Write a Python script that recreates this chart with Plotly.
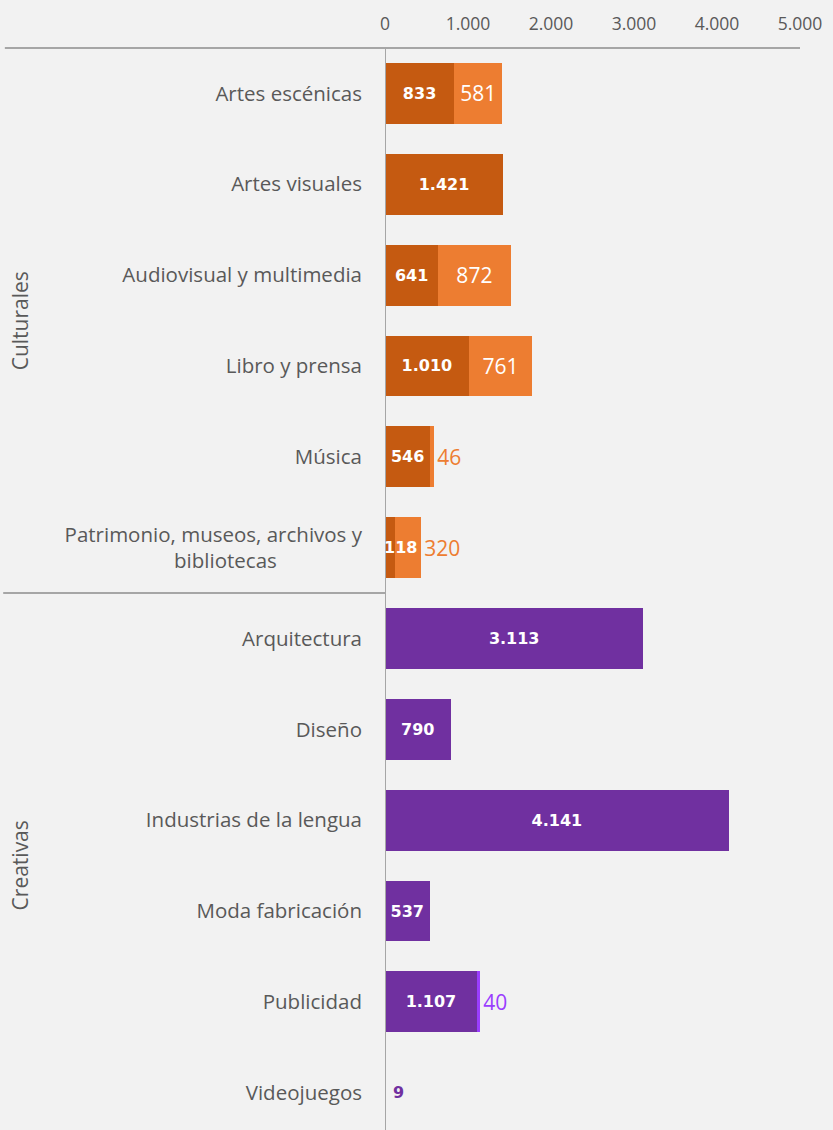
import plotly.graph_objects as go

categories = ["Artes escénicas", "Artes visuales", "Audiovisual y multimedia",
              "Libro y prensa", "Música",
              "Patrimonio, museos, archivos y<br>bibliotecas" + "\u00a0" * 16,
              "Arquitectura", "Diseño", "Industrias de la lengua", "Moda fabricación",
              "Publicidad", "Videojuegos"]
groups = ["Culturales"] * 6 + ["Creativas"] * 6
serie_a = [833, 1421, 641, 1010, 546, 118, 3113, 790, 4141, 537, 1107, 9]
serie_b = [581, None, 872, 761, 46, 320, None, None, None, None, 40, None]
x_ticks = [0, 1000, 2000, 3000, 4000, 5000]

def fmt(v):
    return "" if v is None else f"{v:,}".replace(",", ".")

GRAY = "#595959"
LINE = "#a6a6a6"
dark = ["#C55A11" if g == "Culturales" else "#7030A0" for g in groups]
light = ["#ED7D31" if g == "Culturales" else "#9A3DFF" for g in groups]

# etiquetas que no caben dentro se ponen a mano
small_a = {5, 11}
pos_a = ["none" if i in small_a else "inside" for i in range(len(categories))]
pos_b = []
col_b = []
for i, v in enumerate(serie_b):
    if v is not None and v >= 300 and i != 5:
        pos_b.append("inside")
        col_b.append("white")
    else:
        pos_b.append("outside")
        col_b.append(light[i])

fig = go.Figure()
fig.add_trace(go.Bar(
    y=categories, x=serie_a, orientation="h", width=0.67,
    marker=dict(color=dark, line=dict(width=0)),
    text=[fmt(v) for v in serie_a], textposition=pos_a,
    insidetextanchor="middle", constraintext="none", textangle=0,
    textfont=dict(family="DejaVu Sans", size=16, color="white", weight="bold"),
    cliponaxis=False, hoverinfo="skip",
))
fig.add_trace(go.Bar(
    y=categories, x=serie_b, orientation="h", width=0.67,
    marker=dict(color=light, line=dict(width=0)),
    text=[fmt(v) for v in serie_b], textposition=pos_b,
    insidetextanchor="middle", constraintext="none", textangle=0,
    textfont=dict(family="Open Sans", size=21, color=col_b),
    cliponaxis=False, hoverinfo="skip",
))

for i in small_a:
    fig.add_annotation(
        x=serie_a[i] if i == 11 else 0, y=categories[i], xref="x", yref="y",
        text=f"<b>{fmt(serie_a[i])}</b>", showarrow=False,
        xanchor="left", xshift=5 if i == 11 else -3,
        font=dict(family="DejaVu Sans", size=16,
                  color="#7030A0" if i == 11 else "white"),
    )

for name, yc in [("Culturales", 2.5), ("Creativas", 8.5)]:
    fig.add_annotation(x=-0.88, y=yc, xref="paper", yref="y", text=name,
                       textangle=-90, showarrow=False, xanchor="center",
                       font=dict(family="Open Sans", size=21, color=GRAY))

fig.add_shape(type="line", xref="paper", yref="paper", x0=-0.916, x1=1, y0=1, y1=1,
              line=dict(color=LINE, width=2))
fig.add_shape(type="line", xref="paper", yref="y", x0=-0.92, x1=0, y0=5.5, y1=5.5,
              line=dict(color=LINE, width=2))
fig.add_shape(type="line", xref="x", yref="paper", x0=0, x1=0, y0=0, y1=1,
              line=dict(color=LINE, width=2))

fig.update_layout(
    width=833, height=1130, barmode="stack", showlegend=False,
    paper_bgcolor="#f2f2f2", plot_bgcolor="#f2f2f2",
    margin=dict(l=385, r=33, t=48, b=0),
    font=dict(family="Open Sans", color=GRAY),
    bargap=0.33,
)
fig.update_xaxes(side="top", range=[0, 5000], tickvals=x_ticks,
                 ticktext=[fmt(v) for v in x_ticks], showgrid=False, zeroline=False,
                 showline=False, ticks="", ticklabelstandoff=14,
                 tickfont=dict(size=17.5, color=GRAY))
fig.update_yaxes(type="category", range=[11.41, -0.5], showgrid=False, zeroline=False,
                 showline=False, ticks="", ticklabelstandoff=22,
                 tickfont=dict(size=20.5, color=GRAY))

fig.write_html("out.html", config={"displayModeBar": False},
               post_script="document.body.style.margin='0';"
                           "document.body.style.background='#f2f2f2';")
